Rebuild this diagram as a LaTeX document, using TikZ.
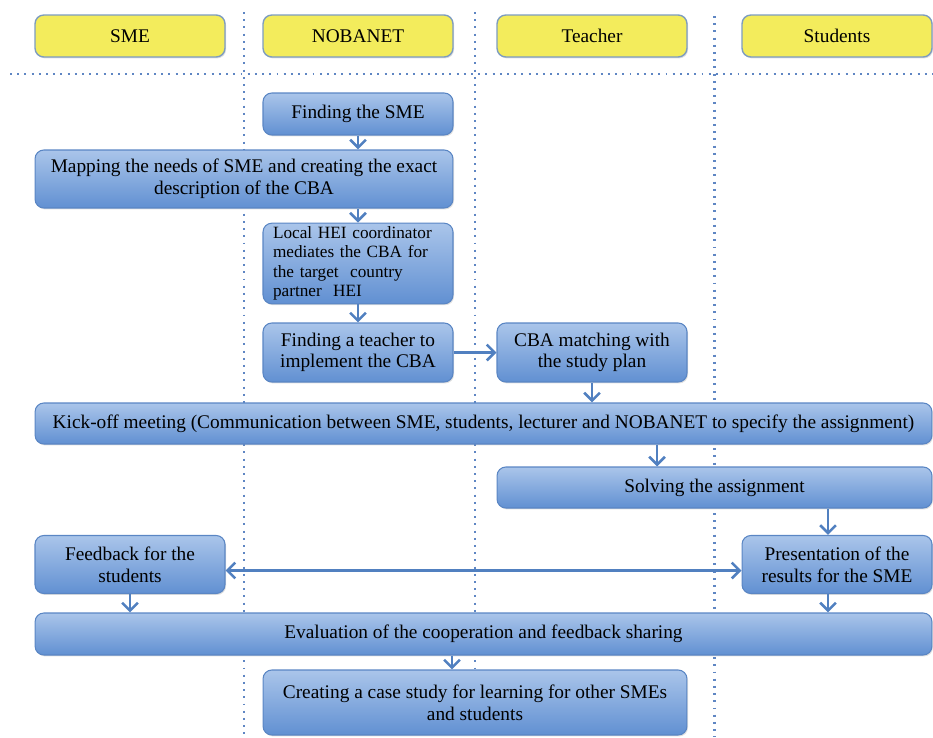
\documentclass[tikz,border=0pt]{standalone}
\usepackage{fontspec}
\setmainfont{Liberation Serif}
\usetikzlibrary{arrows.meta,shadows}
\definecolor{laneyellow}{HTML}{F3EC5C}
\definecolor{laneedge}{HTML}{7D9CC0}
\definecolor{tasktop}{HTML}{AAC5EA}
\definecolor{taskbot}{HTML}{6190D2}
\definecolor{taskedge}{HTML}{5A86C4}
\definecolor{flow}{HTML}{5180C0}
\definecolor{dots}{HTML}{5F86C3}
\tikzset{lane/.style={draw=laneedge, fill=laneyellow, rounded corners=5pt, line width=0.8pt, minimum width=3.8cm, minimum height=0.84cm, font=\fontsize{11}{13}\selectfont, drop shadow={opacity=0.25, shadow xshift=0.6pt, shadow yshift=-0.8pt}},
  task/.style={draw=taskedge, top color=tasktop, bottom color=taskbot, rounded corners=5pt, line width=0.6pt, minimum width=3.8cm, align=center, inner sep=2pt, font=\fontsize{11}{12.3}\selectfont, drop shadow={opacity=0.25, shadow xshift=0.6pt, shadow yshift=-0.8pt}},
  arr/.style={flow, line width=1.5pt, -{Straight Barb[length=4.5pt,width=9pt]}},
  sep/.style={dots, line width=1.7pt, dash pattern=on 1.1pt off 3pt}}

\begin{document}
\begin{tikzpicture}[x=0.02cm,y=-0.02cm]
  \useasboundingbox (0,0) rectangle (933,737);
  \draw[sep] (244,12) -- (244,737);
  \draw[sep] (475,12) -- (475,737);
  \draw[sep] (714,16) -- (714,737);
  \draw[sep] (10,74) -- (933,74);

  \node[lane] (sme)      at (130,36) {SME};
  \node[lane] (nobanet)  at (358,36) {NOBANET};
  \node[lane] (teacher)  at (592,36) {Teacher};
  \node[lane] (students) at (837,36) {Students};

  \node[task, minimum height=0.84cm] (findsme) at (358,114) {Finding the SME};
  \node[task, minimum width=8.36cm, minimum height=1.16cm] (mapping) at (244,179)
    {Mapping the needs of SME and creating the exact\\description of the CBA};
  \node[task, minimum height=1.54cm, align=left, text width=3.4cm, font=\fontsize{9.8}{11}\selectfont] (local) at (358,263.5)
    {Local HEI coordinator\\mediates the CBA for\\the target\ \ country\\partner\ \ HEI};
  \node[task, minimum height=1.18cm] (findteacher) at (358,352.5) {Finding a teacher to\\implement the CBA};
  \node[task, minimum height=1.18cm] (matching) at (592,352.5) {CBA matching with\\the study plan};
  \node[task, minimum width=17.94cm, minimum height=0.82cm] (kickoff) at (483.5,423.5)
    {Kick-off meeting (Communication between SME, students, lecturer and NOBANET to specify the assignment)};
  \node[task, minimum width=8.7cm, minimum height=0.82cm] (solving) at (714.5,487.5) {Solving the assignment};
  \node[task, minimum height=1.16cm] (feedback) at (130,564.5) {Feedback for the\\students};
  \node[task, minimum height=1.16cm] (presentation) at (837,564.5) {Presentation of the\\results for the SME};
  \node[task, minimum width=17.94cm, minimum height=0.84cm] (evaluation) at (483.5,634)
    {Evaluation of the cooperation and feedback sharing};
  \node[task, minimum width=8.48cm, minimum height=1.3cm] (casestudy) at (475,702.5)
    {Creating a case study for learning for other SMEs\\and students};

  \draw[arr] (findsme) -- (mapping.north -| findsme.south);
  \draw[arr] (mapping.south -| local.north) -- (local);
  \draw[arr] (local) -- (findteacher);
  \draw[arr] (findteacher) -- (matching);
  \draw[arr] (matching.south) -- (kickoff.north -| matching.south);
  \draw[arr] ([xshift=-1.15cm]solving.north |- kickoff.south) -- ([xshift=-1.15cm]solving.north);
  \draw[arr] ([xshift=-0.18cm]presentation.north |- solving.south) -- ([xshift=-0.18cm]presentation.north);
  \draw[arr, {Straight Barb[length=4.5pt,width=9pt]}-{Straight Barb[length=4.5pt,width=9pt]}] ([yshift=-0.12cm]feedback.east) -- ([yshift=-0.12cm]presentation.west);
  \draw[arr] (feedback.south) -- (evaluation.north -| feedback.south);
  \draw[arr] ([xshift=-0.18cm]presentation.south) -- ([xshift=-0.18cm]presentation.south |- evaluation.north);
  \draw[arr] ([xshift=-0.46cm]casestudy.north |- evaluation.south) -- ([xshift=-0.46cm]casestudy.north);
\end{tikzpicture}
\end{document}
